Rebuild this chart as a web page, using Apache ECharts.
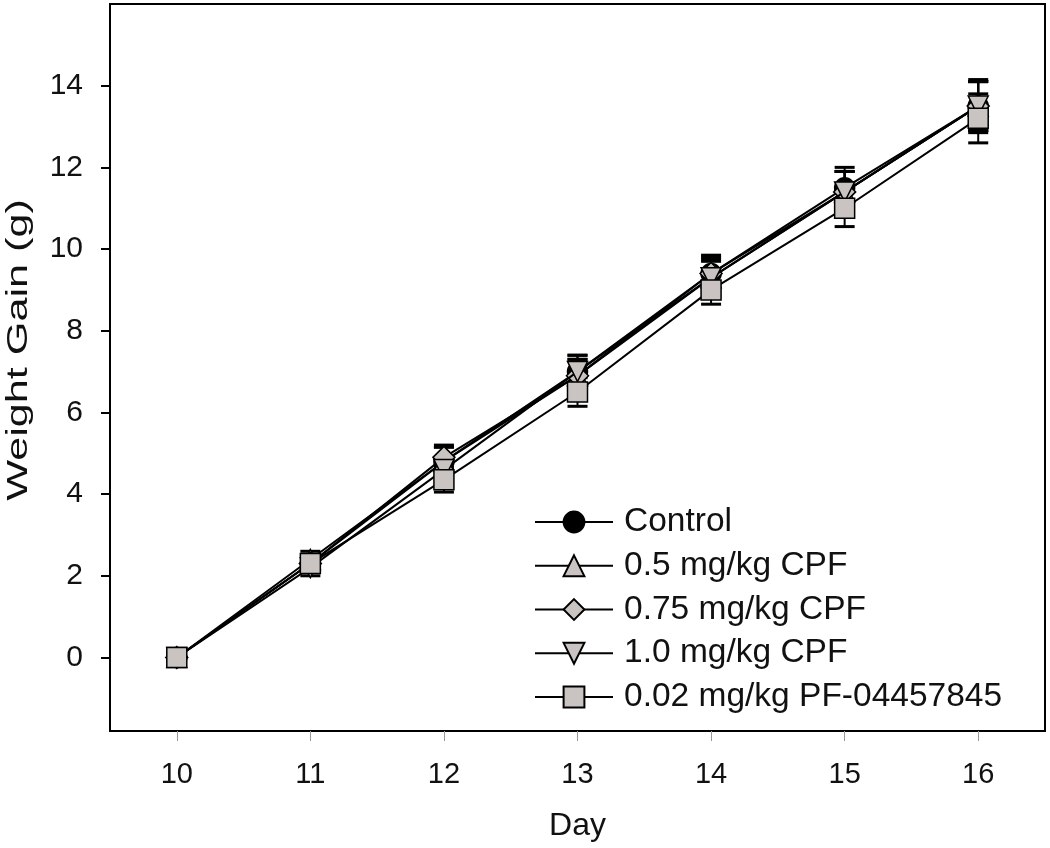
<!DOCTYPE html>
<html>
<head>
<meta charset="utf-8">
<script src="https://cdn.jsdelivr.net/npm/echarts@6/dist/echarts.min.js"></script>
<style>html,body{margin:0;padding:0;background:#fff;}#c{width:1050px;height:848px;}</style>
</head>
<body>
<div id="c"></div>
<script>
const days = [10, 11, 12, 13, 14, 15, 16];
const yTicks = [0, 2, 4, 6, 8, 10, 12, 14];
const seriesNames = ['Control', '0.5 mg/kg CPF', '0.75 mg/kg CPF', '1.0 mg/kg CPF', '0.02 mg/kg PF-04457845'];
const control   = [0, 2.3, 4.8, 7.0, 9.4, 11.5, 13.5];
const cpf05     = [0, 2.4, 4.8, 6.9, 9.3, 11.4, 13.5];
const cpf075    = [0, 2.3, 4.9, 6.9, 9.4, 11.4, 13.5];
const cpf10     = [0, 2.2, 4.6, 7.0, 9.3, 11.4, 13.5];
const pf        = [0, 2.3, 4.35, 6.5, 9.0, 11.0, 13.2];
const controlErr = [0, 0.2, 0.35, 0.4, 0.45, 0.5, 0.65];
const cpf05Err   = [0, 0.2, 0.35, 0.4, 0.45, 0.5, 0.6];
const cpf075Err  = [0, 0.2, 0.3, 0.4, 0.4, 0.5, 0.6];
const cpf10Err   = [0, 0.2, 0.3, 0.4, 0.4, 0.5, 0.6];
const pfErr      = [0, 0.2, 0.3, 0.35, 0.35, 0.45, 0.6];

const values = [control, cpf05, cpf075, cpf10, pf];
const errs = [controlErr, cpf05Err, cpf075Err, cpf10Err, pfErr];
const symbols = ['circle', 'triangle', 'diamond', 'path://M0,0 L10,0 L5,9 Z', 'rect'];
const sizes = [20, 20, 22, 20, 20];
const fills = ['#000', '#c9c4c1', '#c9c4c1', '#c9c4c1', '#c9c4c1'];

const FONT = 'Arial, "Liberation Sans", sans-serif';

const series = [];
values.forEach((vals, i) => {
  series.push({
    name: seriesNames[i] + ' err',
    type: 'custom',
    z: 2,
    data: days.map((d, j) => [d, vals[j], errs[i][j]]),
    renderItem: function (params, api) {
      const x = api.value(0), y = api.value(1), e = api.value(2);
      if (!e) return null;
      const top = api.coord([x, y + e]);
      const bot = api.coord([x, y - e]);
      const hw = 10;
      const st = { stroke: '#000', lineWidth: 3 };
      return {
        type: 'group',
        children: [
          { type: 'line', shape: { x1: top[0], y1: top[1], x2: bot[0], y2: bot[1] }, style: { stroke: '#000', lineWidth: 2 } },
          { type: 'line', shape: { x1: top[0] - hw, y1: top[1], x2: top[0] + hw, y2: top[1] }, style: st },
          { type: 'line', shape: { x1: bot[0] - hw, y1: bot[1], x2: bot[0] + hw, y2: bot[1] }, style: st }
        ]
      };
    }
  });
});
values.forEach((vals, i) => {
  series.push({
    name: seriesNames[i],
    type: 'line',
    z: 3 + i,
    data: days.map((d, j) => [d, vals[j]]),
    symbol: symbols[i],
    symbolSize: sizes[i],
    showAllSymbol: true,
    lineStyle: { color: '#000', width: 2 },
    itemStyle: { color: fills[i], borderColor: '#000', borderWidth: 1.5 },
    emphasis: { disabled: true },
    animation: false
  });
});

const chart = echarts.init(document.getElementById('c'));
chart.setOption({
  animation: false,
  backgroundColor: '#fff',
  grid: { left: 110, right: 5, top: 4, bottom: 117, containLabel: false, outerBoundsMode: 'none', show: true, borderColor: '#000', borderWidth: 2, backgroundColor: 'transparent' },
  legend: {
    data: seriesNames,
    orient: 'vertical',
    left: 529,
    top: 500,
    itemWidth: 78,
    itemHeight: 26,
    itemGap: 9.75,
    textStyle: { fontFamily: FONT, fontSize: 33.5, lineHeight: 34, color: '#111', padding: [0, 0, 0, 6] },
    inactiveColor: '#000'
  },
  graphic: [{
    type: 'text',
    x: 19,
    y: 350,
    rotation: Math.PI / 2,
    scaleX: 1.44,
    style: { text: 'Weight Gain (g)', font: '30px ' + FONT, fill: '#111', align: 'center', verticalAlign: 'middle' }
  }],
  xAxis: {
    type: 'value',
    min: 9.5,
    max: 16.5,
    name: 'Day',
    nameLocation: 'middle',
    nameGap: 79,
    nameTextStyle: { fontFamily: FONT, fontSize: 32, color: '#111' },
    axisLine: { show: true, onZero: false, lineStyle: { color: '#000', width: 2 } },
    axisTick: { show: true, length: 10, customValues: days, lineStyle: { color: '#999', width: 1 } },
    axisLabel: { customValues: days, fontFamily: FONT, fontSize: 29, color: '#111', margin: 29 },
    splitLine: { show: false }
  },
  yAxis: {
    type: 'value',
    min: -1.8,
    max: 16,
    axisLine: { show: true, onZero: false, lineStyle: { color: '#000', width: 2 } },
    axisTick: { show: true, length: 9, customValues: yTicks, lineStyle: { color: '#000', width: 2 } },
    axisLabel: { customValues: yTicks, fontFamily: FONT, fontSize: 30, color: '#111', margin: 27 },
    splitLine: { show: false }
  },
  series: series
});
</script>
</body>
</html>
